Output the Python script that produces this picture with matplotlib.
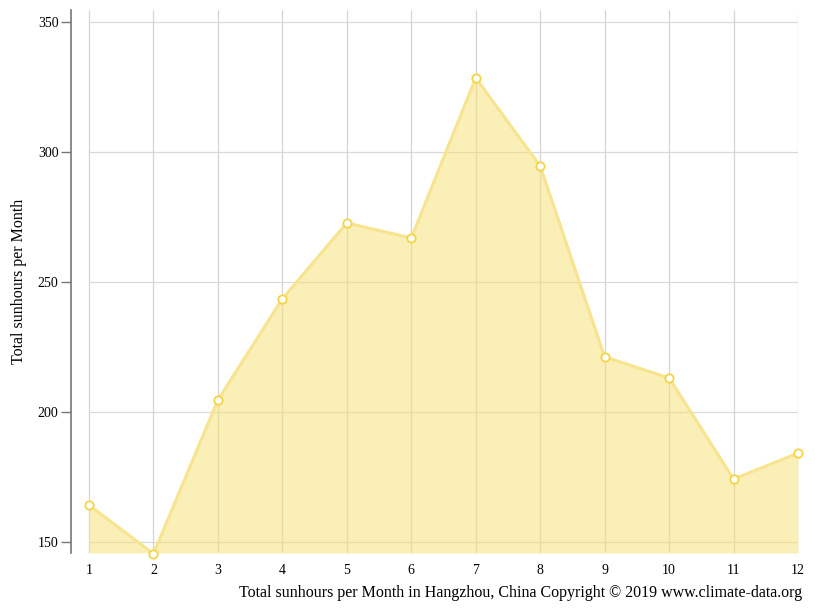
import matplotlib
matplotlib.use("Agg")
import matplotlib.pyplot as plt

months = [1, 2, 3, 4, 5, 6, 7, 8, 9, 10, 11, 12]
sunhours = [164.2, 145.5, 204.6, 243.5, 272.7, 266.9, 328.5, 294.6, 221.2, 213.1, 174.2, 184.2]
yticks = [150, 200, 250, 300, 350]

plt.rcParams["font.family"] = ["Liberation Serif", "DejaVu Serif"]

fig = plt.figure(figsize=(8.15, 6.11), dpi=100)
ax = fig.add_axes([71 / 815, 1 - 553 / 611, (798 - 71) / 815, (553 - 10) / 611])
ymin, ymax = 145.77, 354.6
ax.set_xlim(1 - 18 / 64.45, 12)
ax.set_ylim(ymin, ymax)

# grid drawn only over the data range
ax.hlines(yticks, 1, 12, color="#d9d9d9", lw=0.9, zorder=0)
ax.vlines(months, ymin, ymax, color="#d4d4d4", lw=0.9, zorder=0)

ax.fill_between(months, sunhours, ymin, color="#f7e27a", alpha=0.55, lw=0, zorder=1)
ax.plot(months, sunhours, color="#f8e38e", lw=2.2, zorder=2)
ax.plot(months, sunhours, ls="none", marker="o", ms=6, mfc="white", mec="#f5d444",
        mew=1.3, zorder=3, clip_on=False)

for s in ["top", "right", "bottom"]:
    ax.spines[s].set_visible(False)
ax.spines["left"].set_color("#777777")
ax.spines["left"].set_linewidth(1.2)

ax.set_yticks(yticks)
ax.set_xticks(months)
ax.tick_params(axis="y", length=7, width=1, color="#777777", labelsize=10, pad=2)
ax.tick_params(axis="x", length=0, labelsize=10, pad=8)

ax.set_ylabel("Total sunhours per Month", fontsize=11.5, labelpad=8)
fig.text(802 / 815, 1 - 593 / 611,
         "Total sunhours per Month in Hangzhou, China Copyright © 2019 www.climate-data.org",
         ha="right", va="center", fontsize=11.5)

fig.savefig("out.png", dpi=100, facecolor="white")
